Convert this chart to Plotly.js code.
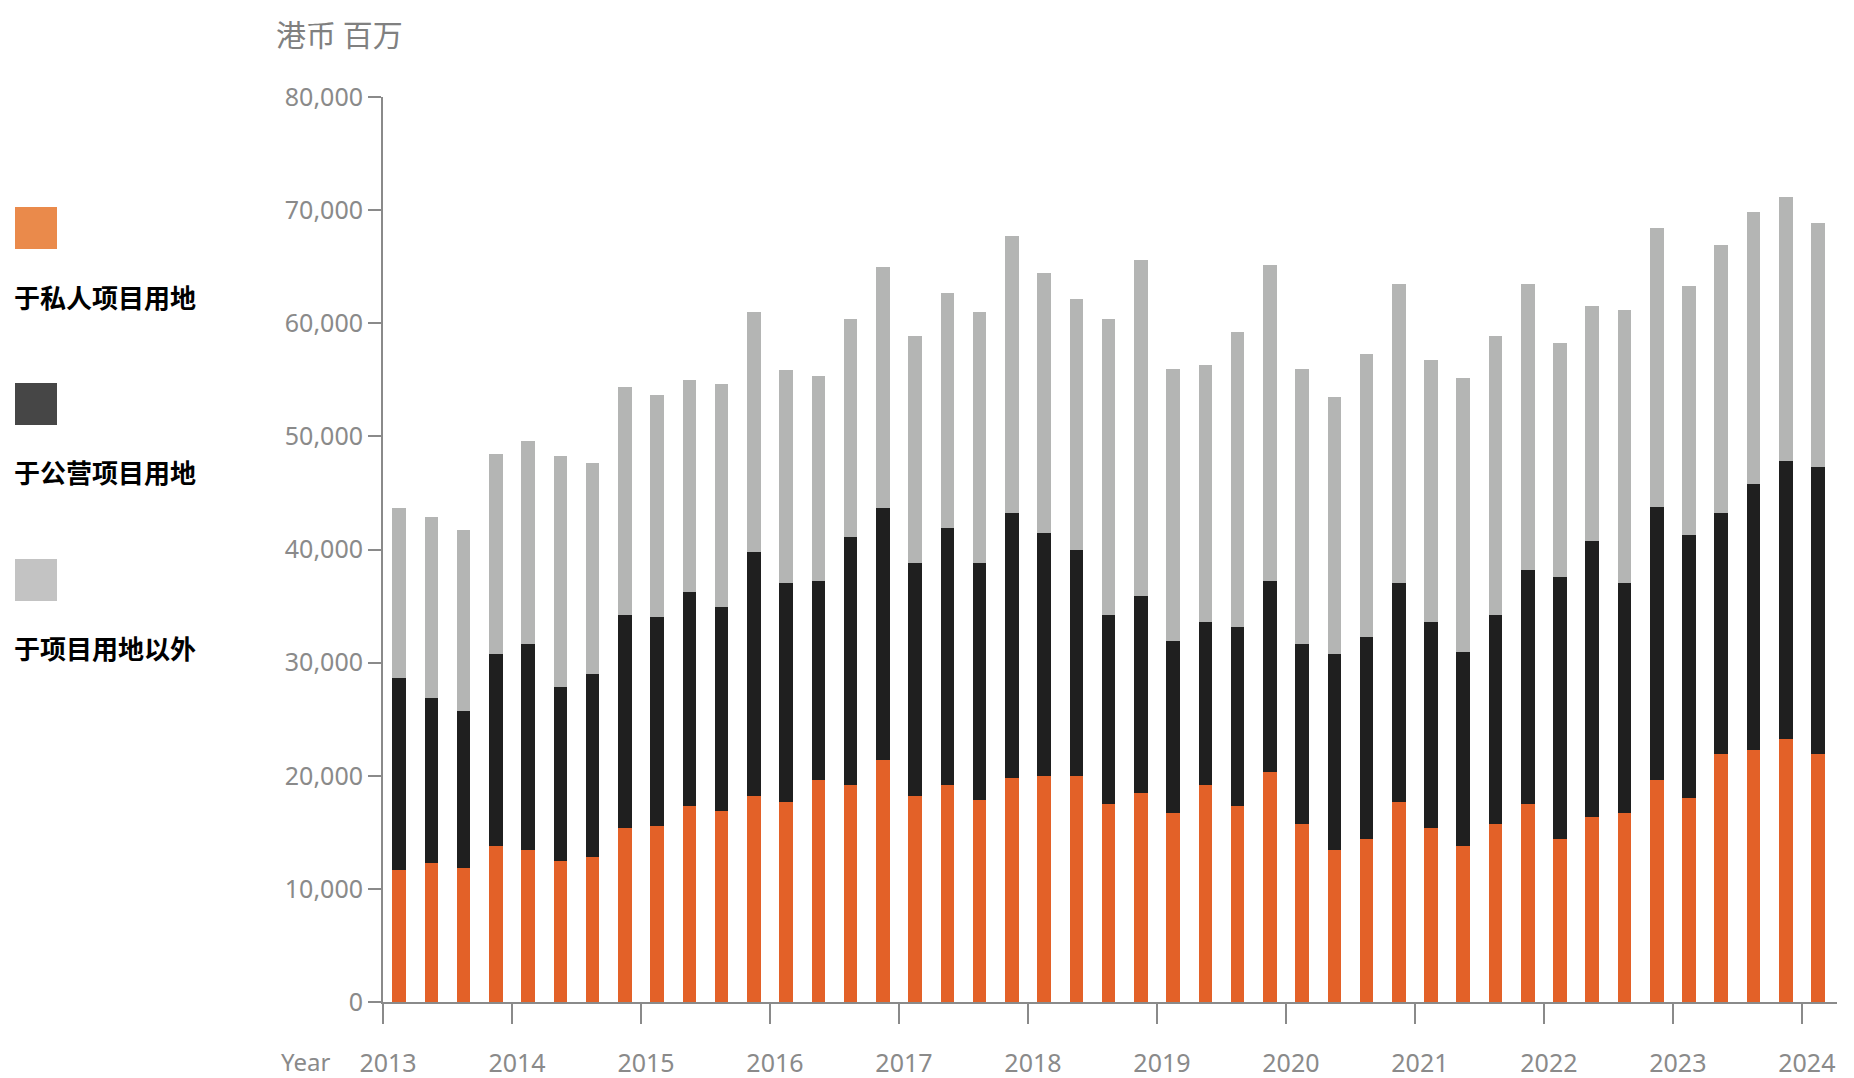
<!DOCTYPE html>
<html>
<head>
<meta charset="utf-8">
<script src="https://cdn.plot.ly/plotly-3.0.1.min.js"></script>
<style>
html,body{margin:0;padding:0;background:#fff;}
#chart{width:1854px;height:1078px;}
</style>
</head>
<body>
<div id="chart"></div>
<script>
const quarters = [
  '2013 Q1','2013 Q2','2013 Q3','2013 Q4',
  '2014 Q1','2014 Q2','2014 Q3','2014 Q4',
  '2015 Q1','2015 Q2','2015 Q3','2015 Q4',
  '2016 Q1','2016 Q2','2016 Q3','2016 Q4',
  '2017 Q1','2017 Q2','2017 Q3','2017 Q4',
  '2018 Q1','2018 Q2','2018 Q3','2018 Q4',
  '2019 Q1','2019 Q2','2019 Q3','2019 Q4',
  '2020 Q1','2020 Q2','2020 Q3','2020 Q4',
  '2021 Q1','2021 Q2','2021 Q3','2021 Q4',
  '2022 Q1','2022 Q2','2022 Q3','2022 Q4',
  '2023 Q1','2023 Q2','2023 Q3','2023 Q4',
  '2024 Q1'
];

// 于私人项目用地 (HK$ million)
const privateSites = [
  11710, 12290, 11880, 13830, 13440, 12500, 12860, 15360, 15560, 17300,
  16920, 18250, 17680, 19600, 19190, 21350, 18250, 19220, 17860, 19780,
  19980, 19980, 17480, 18450, 16710, 19220, 17300, 20370, 15740, 13440,
  14410, 17680, 15360, 13830, 15740, 17480, 14410, 16330, 16710, 19600,
  18070, 21900, 22280, 23250, 21900
];

// 于公营项目用地
const publicSites = [
  16890, 14560, 13820, 16890, 18250, 15320, 16120, 18810, 18430, 18980,
  18040, 21490, 19400, 17660, 21930, 22280, 20540, 22640, 20930, 23430,
  21520, 19960, 16690, 17450, 15160, 14380, 15890, 16890, 15950, 17280,
  17840, 19400, 18240, 17070, 18430, 20750, 23200, 24380, 20370, 24200,
  23220, 21310, 23470, 24580, 25350
];

// 于项目用地以外
const otherUses = [
  15030, 16000, 16000, 17710, 17910, 20430, 18680, 20210, 19630, 18680,
  19630, 21220, 18830, 18090, 19220, 21360, 20050, 20810, 22170, 24470,
  22900, 22170, 26170, 29660, 24050, 22720, 26000, 27910, 24230, 22720,
  25050, 26350, 23110, 24250, 24670, 25200, 20630, 20810, 24050, 24630,
  21960, 23700, 24050, 23320, 21570
];

const seriesNames = ['于私人项目用地', '于公营项目用地', '于项目用地以外'];
const barColors = ['#E36128', '#1F1F1F', '#B4B5B4'];
const legendColors = ['#EA8A4B', '#464646', '#C3C3C3'];

const yearTickVals = [-0.5, 3.5, 7.5, 11.5, 15.5, 19.5, 23.5, 27.5, 31.5, 35.5, 39.5, 43.5];
const yearTickText = ['2013','2014','2015','2016','2017','2018','2019','2020','2021','2022','2023','2024'];

const W = 1854, H = 1078;
const L = 383, R = 17, T = 97, B = 76;
const plotW = W - L - R, plotH = H - T - B;
const px = v => (v - L) / plotW;
const py = v => (H - B - v) / plotH;

const series = [privateSites, publicSites, otherUses];
const traces = series.map((vals, i) => ({
  type: 'bar',
  name: seriesNames[i],
  x: quarters,
  y: vals,
  width: 0.42,
  marker: {color: barColors[i], line: {width: 0}},
  hovertemplate: '%{x}<br>' + seriesNames[i] + ': %{y:,}<extra></extra>'
}));

const shapes = [];
const annotations = [];
const legendTops = [207, 383, 559];
const textCenters = [296, 471, 647];
for (let i = 0; i < 3; i++) {
  shapes.push({
    type: 'rect', xref: 'paper', yref: 'paper',
    x0: px(15), x1: px(57), y0: py(legendTops[i] + 42), y1: py(legendTops[i]),
    fillcolor: legendColors[i], line: {width: 0}, layer: 'above'
  });
  annotations.push({
    xref: 'paper', yref: 'paper', x: px(12), y: py(textCenters[i]),
    xanchor: 'left', yanchor: 'middle', showarrow: false,
    text: '<b>' + seriesNames[i] + '</b>',
    font: {family: '"Noto Sans CJK SC", "Noto Sans", sans-serif', size: 26, color: '#000000'}
  });
}
annotations.push({
  xref: 'paper', yref: 'paper', x: px(274), y: py(33),
  xanchor: 'left', yanchor: 'middle', showarrow: false,
  text: '港币 百万',
  font: {family: '"Noto Sans CJK SC", "Noto Sans", sans-serif', size: 30, color: '#808080'}
});
annotations.push({
  xref: 'paper', yref: 'paper', x: px(305), y: py(1061),
  xanchor: 'center', yanchor: 'middle', showarrow: false,
  text: 'Year',
  font: {family: '"Noto Sans", sans-serif', size: 24, color: '#8a8a8a'}
});

const layout = {
  width: W, height: H,
  margin: {l: L, r: R, t: T, b: B, pad: 0},
  paper_bgcolor: '#ffffff',
  plot_bgcolor: '#ffffff',
  barmode: 'stack',
  showlegend: false,
  font: {family: '"Noto Sans", sans-serif', color: '#8a8a8a'},
  xaxis: {
    type: 'category',
    range: [-0.5, 44.59],
    tickmode: 'array',
    tickvals: yearTickVals,
    ticktext: yearTickText,
    ticks: 'outside', ticklen: 20, tickwidth: 2, tickcolor: '#8a8a8a',
    ticklabelshift: 5,
    ticklabelstandoff: 18,
    showline: true, linecolor: '#8a8a8a', linewidth: 2,
    showgrid: false, zeroline: false,
    tickfont: {family: '"Noto Sans", sans-serif', size: 25, color: '#8a8a8a'}
  },
  yaxis: {
    range: [0, 80000],
    tickmode: 'array',
    tickvals: [0, 10000, 20000, 30000, 40000, 50000, 60000, 70000, 80000],
    tickformat: ',',
    ticks: 'outside', ticklen: 13, tickwidth: 2, tickcolor: '#8a8a8a',
    showline: true, linecolor: '#8a8a8a', linewidth: 2,
    showgrid: false, zeroline: false,
    tickfont: {family: '"Noto Sans", sans-serif', size: 25, color: '#8a8a8a'}
  },
  shapes: shapes,
  annotations: annotations
};

Plotly.newPlot('chart', traces, layout, {displayModeBar: false, responsive: false});
</script>
</body>
</html>
